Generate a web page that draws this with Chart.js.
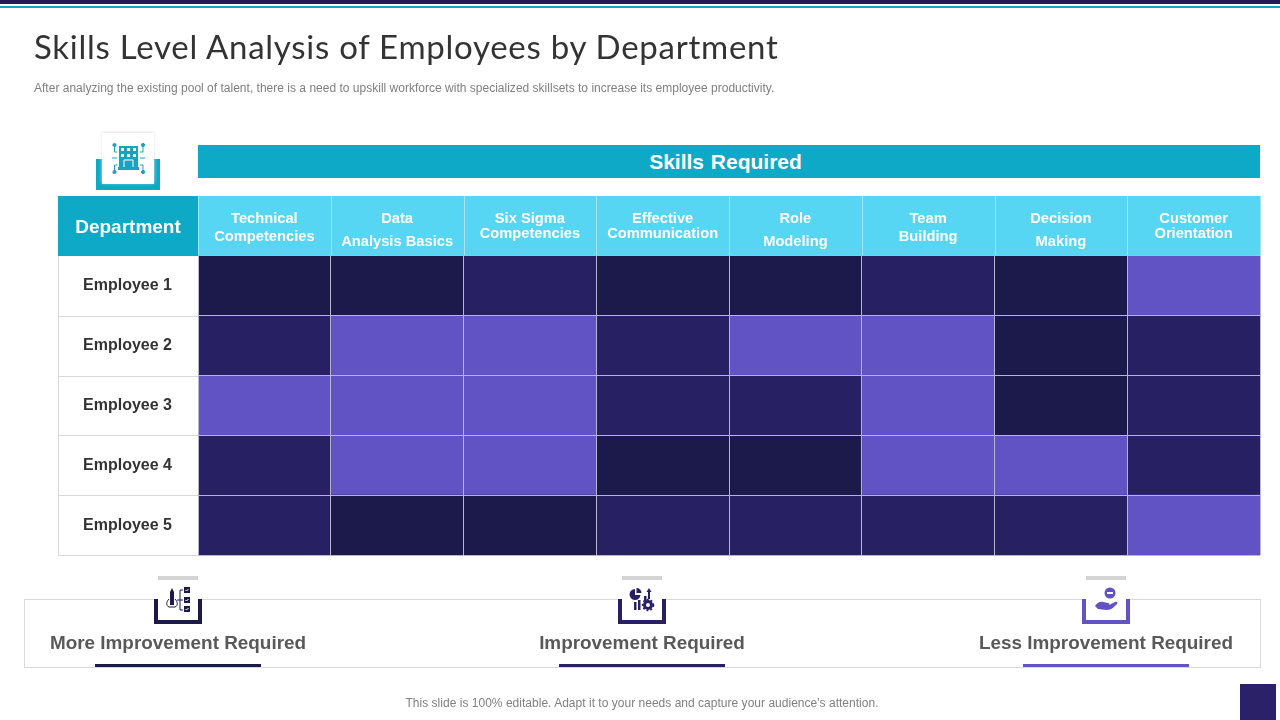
<!DOCTYPE html>
<html>
<head>
<meta charset="utf-8">
<title>Skills Level Analysis of Employees by Department</title>
<script src="https://cdn.jsdelivr.net/npm/chart.js@4"></script>
<style>
  html, body { margin: 0; padding: 0; background: #fff; }
  #slide { position: relative; width: 1280px; height: 720px; overflow: hidden; font-family: "Liberation Sans", Arial, sans-serif; }
  #slide > * { position: absolute; }
  canvas { left: 0; top: 0; }
  .topNavy { left: 0; top: 0; width: 1280px; height: 4px; background: #1f1c5c; }
  .topTeal { left: 0; top: 6px; width: 1280px; height: 2px; background: #17a5bd; }
  h1 { margin: 0; left: 34px; top: 26px; font: 400 33px Lato, sans-serif; color: #333; white-space: nowrap; letter-spacing: 0.73px; }
  .sub { left: 34px; top: 81px; font-size: 12px; color: #7f7f7f; white-space: nowrap; letter-spacing: 0.01px; }
  .skillsBar { left: 198px; top: 145px; width: 1055px; padding-right: 7px; height: 33px; line-height: 33px; background: #0fa9c8; color: #fff; font-size: 21px; font-weight: bold; text-align: center; word-spacing: 1px; }
  .dept { left: 58px; top: 197px; width: 140px; height: 60px; line-height: 60px; color: #fff; font-size: 19px; font-weight: bold; text-align: center; }
  .cup { box-sizing: border-box; border: 4px solid; border-top: 0; }
  .card { background: #fff; }
  .legendBox { left: 24px; top: 599px; width: 1237px; height: 69px; box-sizing: border-box; border: 1px solid #d9d9d9; }
  .legendText { top: 632px; width: 340px; text-align: center; font-size: 18.9px; font-weight: bold; color: #595959; white-space: nowrap; }
  .rule { top: 664px; width: 166px; height: 3px; }
  .shade { top: 576px; width: 40px; height: 4px; background: #d4d4d4; }
  .foot { left: 242px; width: 800px; top: 696px; text-align: center; font-size: 12px; color: #808080; letter-spacing: 0.02px; }
  .corner { left: 1240px; top: 684px; width: 36px; height: 36px; background: #2a2168; }
</style>
</head>
<body>
<div id="slide">
  <canvas id="chart" width="1280" height="720"></canvas>
  <div class="topNavy"></div>
  <div class="topTeal"></div>
  <h1>Skills Level Analysis of Employees by Department</h1>
  <div class="sub">After analyzing the existing pool of talent, there is a need to upskill workforce with specialized skillsets to increase its employee productivity.</div>

  <div class="cup" style="left:96px;top:159px;width:64px;height:31px;border-color:#0fa9c8;border-width:0 6px 6px"></div>
  <div class="card" style="left:102px;top:133px;width:52px;height:51px;box-shadow:0 -1px 3px #e4e4e4"></div>
  <svg style="left:110px;top:141px" width="38" height="36" viewBox="0 0 38 36" fill="none" stroke="#17a5bd" stroke-width="1">
    <rect x="9" y="5" width="19" height="21" fill="#17a5bd" stroke="none"/>
    <path d="M11 7h3v3h-3zM17 7h3v3h-3zM23 7h3v3h-3zM11 13h3v3h-3zM17 13h3v3h-3zM23 13h3v3h-3z" fill="#fff" stroke="none"/>
    <path d="M14 27v-8h9v8" stroke="#fff"/>
    <rect x="8" y="26" width="21" height="3" fill="#17a5bd" stroke="none"/>
    <path d="M4.500 4v7h3M33 4v7h-3M2 17h5M30 17h5M4.500 31v-7h3M33 31v-7h-3"/>
    <circle cx="4.500" cy="4" r="1.600" fill="#17a5bd"/><circle cx="33" cy="4" r="1.600" fill="#17a5bd"/>
    <circle cx="4.500" cy="31" r="1.600" fill="#17a5bd"/><circle cx="33" cy="31" r="1.600" fill="#17a5bd"/>
  </svg>
  <div class="skillsBar">Skills Required</div>
  <div class="dept">Department</div>

  <div class="legendBox"></div>

  <div class="cup" style="left:154px;top:599px;width:48px;height:25px;border-color:#1b1a4b"></div>
  <div class="card" style="left:158px;top:580px;width:40px;height:40px"></div>
  <div class="shade" style="left:158px"></div>
  <svg style="left:164px;top:585px" width="28" height="28" viewBox="0 0 28 28" fill="none" stroke="#1b1a4b" stroke-width="1">
    <rect x="6" y="7" width="4" height="13" fill="#1b1a4b" stroke="none"/>
    <path d="M6 7l2-4 2 4z" fill="#1b1a4b" stroke="none"/>
    <path d="M5 14c-3 3-3 7 0 8h6c3-1 3-5 0-8"/>
    <path d="M13 15h3M16 5v20M16 5h3M16 15h3M16 25h3"/>
    <rect x="20" y="2" width="6" height="6" fill="#1b1a4b" stroke="none"/>
    <rect x="20" y="12" width="6" height="6" fill="#1b1a4b" stroke="none"/>
    <rect x="20" y="21" width="6" height="6" fill="#1b1a4b" stroke="none"/>
    <path d="M21.500 5l1 1 2-2M21.500 15l1 1 2-2M21.500 24l1 1 2-2" stroke="#fff"/>
  </svg>
  <div class="legendText" style="left:8px">More Improvement Required</div>
  <div class="rule" style="left:95px;background:#1b1a4b"></div>

  <div class="cup" style="left:618px;top:599px;width:48px;height:25px;border-color:#272063"></div>
  <div class="card" style="left:622px;top:580px;width:40px;height:40px"></div>
  <div class="shade" style="left:622px"></div>
  <svg style="left:628px;top:585px" width="28" height="28" viewBox="0 0 28 28" fill="#272063">
    <path d="M7 4a5.500 5.500 0 1 0 5.500 6h-5.500z"/><path d="M8.500 3a5 5 0 0 1 5 5h-5z"/>
    <rect x="6" y="17" width="2.500" height="8"/><rect x="10" y="15" width="2.500" height="10"/><rect x="16" y="11" width="2.500" height="5"/>
    <rect x="20" y="6" width="2" height="8"/><path d="M18.500 7l2.500-4 2.500 4z"/>
    <circle cx="20" cy="20" r="3.500" fill="none" stroke="#272063" stroke-width="3"/>
    <circle cx="20" cy="20" r="5.500" fill="none" stroke="#272063" stroke-width="1.500" stroke-dasharray="2 2"/>
  </svg>
  <div class="legendText" style="left:472px">Improvement Required</div>
  <div class="rule" style="left:559px;background:#272063"></div>

  <div class="cup" style="left:1082px;top:599px;width:48px;height:25px;border-color:#6153c4"></div>
  <div class="card" style="left:1086px;top:580px;width:40px;height:40px"></div>
  <div class="shade" style="left:1086px"></div>
  <svg style="left:1092px;top:585px" width="28" height="28" viewBox="0 0 28 28" fill="#6153c4">
    <circle cx="18" cy="8" r="5.500"/><rect x="15" y="7" width="6" height="2" fill="#fff"/>
    <path d="M3 21c2-3 5-5 8-4l5 1c2 0 2 2 0 2h-3 4l6-3c2-1 3 1 2 2-3 3-6 6-10 6-4 0-6-1-9-1z"/>
  </svg>
  <div class="legendText" style="left:936px">Less Improvement Required</div>
  <div class="rule" style="left:1023px;background:#6153c4"></div>

  <div class="foot">This slide is 100% editable. Adapt it to your needs and capture your audience's attention.</div>
  <div class="corner"></div>
</div>

<script>
const skills = [
  ["Technical", "Competencies"],
  ["Data", "Analysis Basics"],
  ["Six Sigma", "Competencies"],
  ["Effective", "Communication"],
  ["Role", "Modeling"],
  ["Team", "Building"],
  ["Decision", "Making"],
  ["Customer", "Orientation"]
];
const skillLineHeights = [18, 23, 15, 15, 23, 18, 23, 15];
const employees = ["Employee 1", "Employee 2", "Employee 3", "Employee 4", "Employee 5"];

// 0 = more improvement, 1 = improvement, 2 = less improvement
const employee1 = [0, 0, 1, 0, 0, 1, 0, 2];
const employee2 = [1, 2, 2, 1, 2, 2, 0, 1];
const employee3 = [2, 2, 2, 1, 1, 2, 0, 1];
const employee4 = [1, 2, 2, 0, 0, 2, 2, 1];
const employee5 = [1, 0, 0, 1, 1, 1, 1, 2];
const levelRows = [employee1, employee2, employee3, employee4, employee5];
const levelColors = ["#1b1a4b", "#272063", "#6153c4"];

// Header cells and row label boxes sit outside the chart area, so draw them from the scales
const tableFrame = {
  id: "tableFrame",
  beforeDraw(chart) {
    const { ctx, chartArea: area, scales } = chart;
    const top = area.top - 60;
    const left = area.left - 140;
    ctx.save();
    ctx.fillStyle = "#0fa9c8";
    ctx.fillRect(left, top, 140, 60);
    ctx.fillStyle = "#56d6f2";
    ctx.fillRect(area.left, top, area.width, 60);
    ctx.lineWidth = 1;
    ctx.strokeStyle = "#a9e3f1";
    ctx.beginPath();
    scales.x.ticks.forEach((tick) => {
      const x = Math.round(scales.x.getPixelForValue(tick.value)) + 0.5;
      ctx.moveTo(x, top);
      ctx.lineTo(x, area.top);
    });
    ctx.stroke();
    ctx.strokeStyle = "#d9d9d9";
    ctx.beginPath();
    employees.forEach((name, index) => {
      const y = Math.round(scales.y.getPixelForValue(index) + scales.y.getPixelForValue(1) / 2 - scales.y.getPixelForValue(0) / 2) + 0.5;
      ctx.moveTo(left, y);
      ctx.lineTo(area.left, y);
    });
    ctx.moveTo(left + 0.5, area.top);
    ctx.lineTo(left + 0.5, area.bottom);
    ctx.stroke();
    ctx.restore();
  }
};

new Chart(document.getElementById("chart"), {
  type: "bar",
  data: {
    labels: employees,
    datasets: skills.map((skill, column) => ({
      label: skill.join(" "),
      data: employees.map(() => 1),
      backgroundColor: levelRows.map((row) => levelColors[row[column]]),
      borderWidth: 0,
      barPercentage: 1,
      categoryPercentage: 1
    }))
  },
  plugins: [tableFrame],
  options: {
    indexAxis: "y",
    responsive: false,
    animation: false,
    layout: { padding: { left: 58, top: 196, right: 20, bottom: 165 } },
    plugins: { legend: { display: false }, tooltip: { enabled: false } },
    scales: {
      x: {
        stacked: true,
        min: 0,
        max: skills.length,
        display: true,
        border: { display: false },
        ticks: { stepSize: 1, display: false },
        afterFit: (scale) => { scale.height = 0; },
        grid: { color: "#b7b6cd", lineWidth: 1, z: 1, drawTicks: false }
      },
      skillAxis: {
        type: "category",
        position: "top",
        labels: skills,
        offset: true,
        border: { display: false },
        grid: { display: false, drawTicks: false },
        afterFit: (scale) => { scale.height = 60; },
        ticks: {
          color: "#fff",
          padding: 14,
          maxRotation: 0,
          autoSkip: false,
          crossAlign: "center",
          font: (ctx) => ({
            family: "'Liberation Sans'",
            size: 14.7,
            weight: "bold",
            lineHeight: skillLineHeights[ctx.index] + "px"
          })
        }
      },
      y: {
        stacked: true,
        offset: true,
        border: { display: false },
        afterFit: (scale) => { scale.width = 140; },
        grid: { color: "#b7b6cd", lineWidth: 1, z: 1, offset: true, drawTicks: false },
        ticks: {
          color: "#333",
          padding: 26,
          crossAlign: "center",
          font: { family: "'Liberation Sans'", size: 16, weight: "bold" }
        }
      }
    }
  }
});
</script>
</body>
</html>
